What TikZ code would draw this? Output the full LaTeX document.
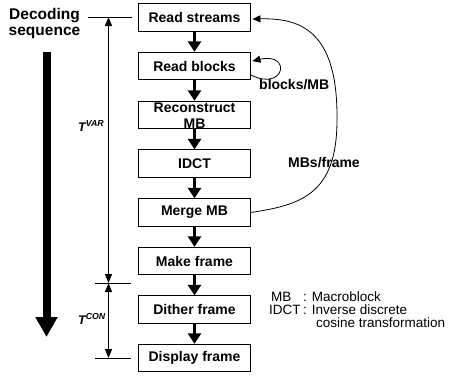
\documentclass[tikz,border=0pt]{standalone}
\usepackage{fontspec}
\setmainfont{Liberation Sans}
\usetikzlibrary{arrows.meta,calc}
\begin{document}
\begin{tikzpicture}[x=1pt,y=-1pt,
  box/.style={draw,line width=0.9pt,minimum width=112pt,minimum height=27.5pt,inner sep=0pt,
    font=\fontsize{14}{14}\selectfont\bfseries},
  boxtext/.style={inner sep=0pt,align=center,font=\fontsize{14}{16}\selectfont\bfseries},
  flow/.style={line width=3.2pt,-{Triangle[width=13pt,length=10.5pt]}},
  dim/.style={line width=0.8pt,{Triangle[width=7pt,length=9pt]}-{Triangle[width=7pt,length=9pt]}},
  tick/.style={line width=0.8pt},
  loop/.style={line width=0.8pt,-{Triangle[width=7pt,length=8pt]}},
  lbl/.style={inner sep=0pt,anchor=base west,font=\fontsize{14}{14}\selectfont\bfseries},
  legend/.style={inner sep=0pt,anchor=base west,font=\fontsize{13.5}{13.5}\selectfont},
  title/.style={inner sep=0pt,anchor=base,font=\fontsize{15.5}{15.5}\selectfont\bfseries},
  tlab/.style={inner sep=0pt,anchor=base west,font=\fontsize{12.5}{12.5}\selectfont\bfseries\itshape},
]
\useasboundingbox (0,0) rectangle (451,376);

% process boxes
\node[box] (rs) at (194.5,17.5) {Read streams};
\node[box] (rb) at (194.5,66) {Read blocks};
\node[box] (rc) at (194.5,115) {};
\node[boxtext] (rct) at (194.5,115.5) {Reconstruct\\MB};
\node[box] (id) at (194.5,163.5) {IDCT};
\node[box] (mm) at (194.5,212.5) {Merge MB};
\node[box] (mf) at (194.5,261) {Make frame};
\node[box] (df) at (194.5,309.5) {Dither frame};
\node[box] (dp) at (194.5,358) {Display frame};

\draw[flow] (rs) -- (rb);
\draw[flow] (rb) -- (rc);
\draw[flow] (rc) -- (id);
\draw[flow] (id) -- (mm);
\draw[flow] (mm) -- (mf);
\draw[flow] (mf) -- (df);
\draw[flow] (df) -- (dp);

% loops
\draw[loop] ($(rb.east)+(0,9)$) .. controls (285,92) and (292,52) .. ($(rb.east)+(1.5,-5)$);
\node[lbl] (lblk) at (259,89) {blocks/MB};
\draw[loop] (mm.east) .. controls (300,205) and (337,195) .. (337,120)
  .. controls (338,30) and (300,18) .. ($(rs.east)+(1.5,1.5)$);
\node[lbl] (lmbs) at (288,167) {MBs/frame};

% decoding sequence
\node[title] (dec1) at (44.5,19.5) {Decoding};
\node[title] (dec2) at (44.5,35.5) {sequence};
\coordinate (bigtop) at (46.5,52);
\coordinate (bigbot) at (46.5,337);
\draw[line width=8pt,-{Triangle[width=21pt,length=20pt]}] (bigtop) -- (bigbot);

% timing dimensions
\coordinate (t0l) at (88,17);
\coordinate (t0r) at (132,17);
\coordinate (t1l) at (95,283);
\coordinate (t1r) at (131,283);
\coordinate (t2l) at (95,358);
\coordinate (t2r) at (131,358);
\coordinate (v0) at (108.5,17);
\coordinate (v1) at (108.5,283);
\coordinate (v2) at (108.5,358);
\draw[tick] (t0l) -- (t0r);
\draw[tick] (t1l) -- (t1r);
\draw[tick] (t2l) -- (t2r);
\draw[dim] (v0) -- (v1);
\draw[dim] (v1) -- (v2);
\node[tlab] (tvar) at (78,131) {T\textsuperscript{VAR}};
\node[tlab] (tcon) at (78,324) {T\textsuperscript{CON}};

% legend
\node[legend] (lg1a) at (271,301) {MB};
\node[legend] (lg1b) at (303,301) {: Macroblock};
\node[legend] (lg2a) at (269,314) {IDCT};
\node[legend] (lg2b) at (303,314) {: Inverse discrete};
\node[legend] (lg3) at (316,327) {cosine transformation};
\end{tikzpicture}
\end{document}
